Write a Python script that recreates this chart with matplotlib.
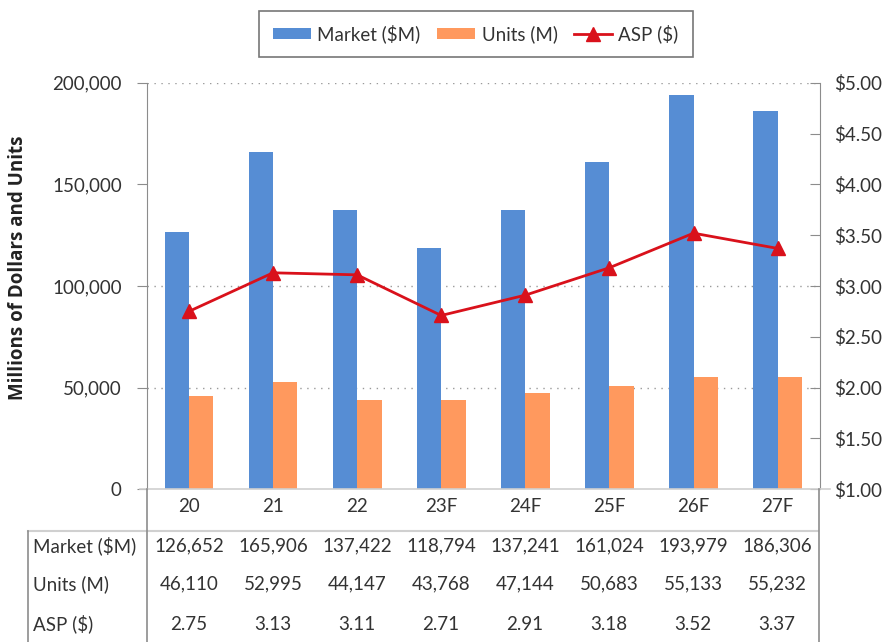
import numpy as np
import matplotlib.pyplot as plt
from matplotlib.lines import Line2D
from matplotlib.ticker import FuncFormatter

plt.rcParams['font.family'] = ['Lato', 'DejaVu Sans']

years = ['20', '21', '22', '23F', '24F', '25F', '26F', '27F']
market = [126652, 165906, 137422, 118794, 137241, 161024, 193979, 186306]
units = [46110, 52995, 44147, 43768, 47144, 50683, 55133, 55232]
asp = [2.75, 3.13, 3.11, 2.71, 2.91, 3.18, 3.52, 3.37]

blue = '#568DD4'
orange = '#FF995E'
red = '#D9111B'
grey = '#8C8C8C'
txt = '#333333'

fig = plt.figure(figsize=(8.9, 6.42), dpi=100)
ax = fig.add_axes([0.165, 0.238, 0.756, 0.633])
ax2 = ax.twinx()

x = np.arange(len(years))
w = 0.29
b1 = ax.bar(x - w / 2, market, w, color=blue, label='Market ($M)', zorder=2)
b2 = ax.bar(x + w / 2, units, w, color=orange, label='Units (M)', zorder=2)
l1, = ax2.plot(x, asp, color=red, lw=2, marker='^', markersize=10, label='ASP ($)')

ax.set_xlim(-0.5, len(years) - 0.5)
ax.set_ylim(0, 200000)
ax.set_yticks([0, 50000, 100000, 150000, 200000])
ax.yaxis.set_major_formatter(FuncFormatter(lambda v, p: f'{int(v):,}'))
for g in [50000, 100000, 200000]:
    ax.axhline(g, color='#9A9A9A', lw=1, ls=(0, (1, 4)), zorder=1)

ax2.set_ylim(1, 5)
ax2.set_yticks(np.arange(1, 5.01, 0.5))
ax2.yaxis.set_major_formatter(FuncFormatter(lambda v, p: f'${v:.2f}'))

ax.set_xticks(x)
ax.set_xticklabels(years)
ax.tick_params(axis='x', length=0, labelsize=13.5, colors=txt, pad=6)
ax.tick_params(axis='y', direction='out', length=7, color=grey, labelsize=13.5,
               labelcolor=txt, pad=11)
ax2.tick_params(axis='y', direction='in', length=7, color=grey, labelsize=13.5,
                labelcolor=txt, pad=10)

for a in (ax, ax2):
    a.spines['top'].set_visible(False)
    a.spines['bottom'].set_visible(False)
    a.spines['left'].set_color(grey)
    a.spines['right'].set_color(grey)
ax2.spines['left'].set_visible(False)
ax.spines['right'].set_visible(False)

fig.text(18 / 890, 1 - 268 / 642, 'Millions of Dollars and Units', rotation=90,
         fontsize=13.5, fontweight='bold', color='#222222', ha='center', va='center',
         family=['Open Sans', 'DejaVu Sans'])

# axis baseline and data table
fw, fh = 890, 642
def fl(x0, y0, x1, y1, c=grey, lw=1.2):
    fig.add_artist(Line2D([x0 / fw, x1 / fw], [1 - y0 / fh, 1 - y1 / fh],
                          color=c, lw=lw))

fl(140, 489, 830, 489, c='#D0D0D0', lw=1.2)
fl(28, 531, 818, 531, c='#D0D0D0', lw=1.5)
fl(28, 531, 28, 642, c=grey)
fl(147, 489, 147, 642, c=grey)
fl(819, 489, 819, 642, c=grey)

rows = [('Market ($M)', [f'{v:,}' for v in market], 546),
        ('Units (M)', [f'{v:,}' for v in units], 584),
        ('ASP ($)', [f'{v:.2f}' for v in asp], 624)]
for name, vals, ypx in rows:
    yf = 1 - ypx / fh
    fig.text(33 / fw, yf, name, fontsize=13.5, color=txt, ha='left', va='center')
    for i, v in enumerate(vals):
        xf = (147 + (i + 0.5) * (672 / 8)) / fw
        fig.text(xf, yf, v, fontsize=13.5, color=txt, ha='center', va='center')

leg = fig.legend([b1, b2, l1], ['Market ($M)', 'Units (M)', 'ASP ($)'],
                 loc='center', bbox_to_anchor=(476 / fw, 1 - 34 / fh), ncol=3,
                 fontsize=13.5, frameon=True, fancybox=False, edgecolor='#555555',
                 handlelength=2.0, handleheight=0.55, columnspacing=0.9,
                 handletextpad=0.35, borderpad=0.75)
leg.get_frame().set_linewidth(1.2)
for t in leg.get_texts():
    t.set_color(txt)

fig.savefig('out.png', dpi=100)
